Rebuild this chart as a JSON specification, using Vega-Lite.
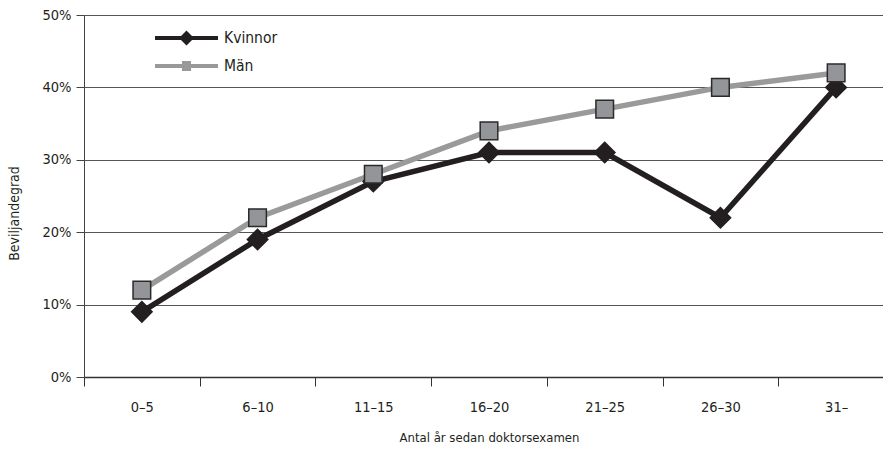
{
  "$schema": "https://vega.github.io/schema/vega-lite/v6.json",
  "width": 810,
  "height": 362,
  "autosize": {"type": "none"},
  "padding": {"left": 84, "top": 15, "right": 0, "bottom": 77},
  "background": "white",
  "config": {
    "font": "DejaVu Sans Condensed",
    "view": {"stroke": null},
    "axis": {"labelFont": "DejaVu Sans Condensed", "titleFont": "DejaVu Sans Condensed", "labelColor": "#231f20", "titleColor": "#231f20", "titleFontWeight": "normal"}
  },
  "data": {
    "values": [
      {"cat": "0–5", "gender": "Kvinnor", "value": 0.09},
      {"cat": "6–10", "gender": "Kvinnor", "value": 0.19},
      {"cat": "11–15", "gender": "Kvinnor", "value": 0.27},
      {"cat": "16–20", "gender": "Kvinnor", "value": 0.31},
      {"cat": "21–25", "gender": "Kvinnor", "value": 0.31},
      {"cat": "26–30", "gender": "Kvinnor", "value": 0.22},
      {"cat": "31–", "gender": "Kvinnor", "value": 0.40},
      {"cat": "0–5", "gender": "Män", "value": 0.12},
      {"cat": "6–10", "gender": "Män", "value": 0.22},
      {"cat": "11–15", "gender": "Män", "value": 0.28},
      {"cat": "16–20", "gender": "Män", "value": 0.34},
      {"cat": "21–25", "gender": "Män", "value": 0.37},
      {"cat": "26–30", "gender": "Män", "value": 0.40},
      {"cat": "31–", "gender": "Män", "value": 0.42}
    ]
  },
  "encoding": {
    "x": {
      "field": "cat", "type": "ordinal", "sort": null, "bandPosition": 0.5,
      "scale": {"type": "band", "paddingInner": 0, "paddingOuter": 0},
      "axis": {
        "title": "Antal år sedan doktorsexamen", "labelAngle": 0, "tickBand": "extent",
        "labelFontSize": 14.5, "titleFontSize": 13, "labelPadding": 14, "titlePadding": 18,
        "tickSize": 9, "tickColor": "#333", "domainColor": "#333", "domainWidth": 1.5, "grid": false
      }
    },
    "y": {
      "field": "value", "type": "quantitative",
      "scale": {"domain": [0, 0.5], "nice": false},
      "axis": {
        "title": "Beviljandegrad", "format": "%", "values": [0, 0.1, 0.2, 0.3, 0.4, 0.5],
        "labelFontSize": 14.5, "titleFontSize": 14, "labelPadding": 5, "titlePadding": 21, "titleY": 198,
        "tickSize": 8, "tickColor": "#444", "domainColor": "#444", "grid": true, "gridColor": "#555", "gridOpacity": 1
      }
    }
  },
  "layer": [
    {
      "mark": {"type": "line", "strokeWidth": 5.5},
      "encoding": {
        "color": {
          "field": "gender", "type": "nominal",
          "scale": {"domain": ["Kvinnor", "Män"], "range": ["#231f20", "#9a9a9a"]},
          "legend": {
            "title": null, "orient": "none", "legendX": 69, "legendY": 9, "padding": 0,
            "symbolSize": 400, "symbolStrokeWidth": 0, "labelOffset": 51, "labelFontSize": 15.5, "labelFont": "DejaVu Sans Condensed", "labelColor": "#231f20", "rowPadding": 0, "clipHeight": 28,
            "encode": {
              "symbols": {
                "update": {
                  "shape": {"signal": "datum.value === 'Kvinnor' ? 'M-0.8,-0.2L5.5,-0.2L5.5,0.2L-0.8,0.2Z M1.6,0L2.35,-0.75L3.1,0L2.35,0.75Z' : 'M-0.8,-0.2L5.5,-0.2L5.5,0.2L-0.8,0.2Z M1.9,-0.5L2.8,-0.5L2.8,0.5L1.9,0.5Z'"},
                  "fill": {"signal": "datum.value === 'Kvinnor' ? '#231f20' : '#999999'"},
                  "stroke": {"value": "transparent"},
                  "strokeWidth": {"value": 0},
                  "opacity": {"value": 1}
                }
              }
            }
          }
        }
      }
    },
    {
      "transform": [{"filter": "datum.gender === 'Kvinnor'"}],
      "mark": {"type": "point", "shape": "diamond", "filled": true, "opacity": 1, "size": 420, "fill": "#231f20", "stroke": "#231f20", "strokeWidth": 1.5}
    },
    {
      "transform": [{"filter": "datum.gender === 'Män'"}],
      "mark": {"type": "point", "shape": "square", "filled": true, "opacity": 1, "size": 310, "fill": "#939598", "stroke": "#2a2a2a", "strokeWidth": 1.5}
    }
  ]
}
